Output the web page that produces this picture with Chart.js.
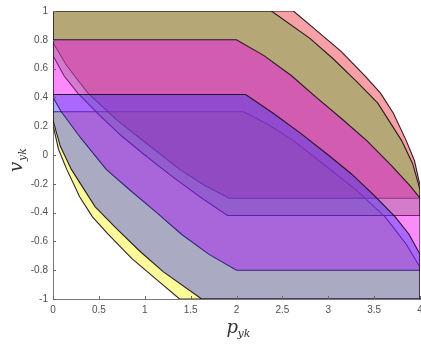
<!DOCTYPE html>
<html>
<head>
<meta charset="utf-8">
<script src="https://cdn.jsdelivr.net/npm/chart.js@4/dist/chart.umd.min.js"></script>
<style>
html,body{margin:0;padding:0;background:#fff;}
canvas{display:block;}
</style>
</head>
<body>
<canvas id="c" width="421" height="344"></canvas>
<script>
// Region vertices (p, v)
const redP = [0, 2.62, 2.88, 3.14, 3.4, 3.57, 3.71, 3.85, 3.94, 4, 4, 1.92, 1.65, 1.38, 1.0, 0.7, 0.38, 0.15, 0, 0];
const redV = [1, 1, 0.86, 0.72, 0.55, 0.43, 0.29, 0.1, -0.04, -0.21, -0.3, -0.3, -0.21, -0.1, 0.09, 0.24, 0.43, 0.62, 0.78, 1];

const greenP = [0, 2.38, 2.8, 3.05, 3.31, 3.54, 3.8, 3.92, 4, 4, 1.9, 1.6, 1.3, 1.0, 0.75, 0.5, 0.27, 0.12, 0, 0];
const greenV = [1, 1, 0.81, 0.67, 0.51, 0.36, 0.1, -0.06, -0.24, -0.42, -0.42, -0.29, -0.15, 0.0, 0.13, 0.28, 0.43, 0.55, 0.69, 1];

const magentaP = [0, 2.0, 2.3, 2.6, 2.87, 3.15, 3.42, 3.7, 3.9, 4, 4, 2.0, 1.7, 1.4, 1.13, 0.85, 0.58, 0.3, 0.09, 0, 0];
const magentaV = [0.8, 0.8, 0.69, 0.55, 0.4, 0.25, 0.1, -0.08, -0.22, -0.3, -0.8, -0.8, -0.69, -0.55, -0.4, -0.25, -0.1, 0.12, 0.3, 0.4, 0.8];

const blueP = [0, 2.1, 2.4, 2.7, 3.0, 3.25, 3.5, 3.73, 3.88, 4, 4, 1.62, 1.2, 0.95, 0.69, 0.46, 0.2, 0.08, 0, 0];
const blueV = [0.42, 0.42, 0.29, 0.15, 0.0, -0.13, -0.28, -0.43, -0.55, -0.69, -1, -1, -0.81, -0.67, -0.51, -0.36, -0.1, 0.06, 0.24, 0.42];

const yellowP = [0, 2.08, 2.35, 2.62, 3.0, 3.3, 3.62, 3.85, 4, 4, 1.38, 1.12, 0.86, 0.6, 0.43, 0.29, 0.15, 0.06, 0, 0];
const yellowV = [0.3, 0.3, 0.21, 0.1, -0.09, -0.24, -0.43, -0.62, -0.78, -1, -1, -0.86, -0.72, -0.55, -0.43, -0.29, -0.1, 0.04, 0.21, 0.3];

const xTicks = [0, 0.5, 1, 1.5, 2, 2.5, 3, 3.5, 4];
const yTicks = [-1, -0.8, -0.6, -0.4, -0.2, 0, 0.2, 0.4, 0.6, 0.8, 1];

function pts(P, V) { return P.map((p, i) => ({x: p, y: V[i]})); }
function region(label, P, V, fillColor) {
  return {
    label: label,
    data: pts(P, V),
    showLine: true,
    fill: 'shape',
    backgroundColor: fillColor,
    borderColor: 'rgba(25,10,25,0.9)',
    borderWidth: 1.1,
    pointRadius: 0,
    tension: 0
  };
}
// index 0 is drawn on top
const datasets = [
  region('blue', blueP, blueV, 'rgba(50,50,255,0.4)'),
  region('magenta', magentaP, magentaV, 'rgba(244,0,244,0.45)'),
  region('green', greenP, greenV, 'rgba(88,180,48,0.4)'),
  region('red', redP, redV, 'rgba(230,20,30,0.4)'),
  region('yellow', yellowP, yellowV, 'rgba(245,245,0,0.4)')
];

const extras = {
  id: 'extras',
  afterDraw(chart) {
    const ctx = chart.ctx;
    const xs = chart.scales.x, ys = chart.scales.y;
    const ca = chart.chartArea;
    ctx.save();
    // inward tick marks
    ctx.strokeStyle = '#666';
    ctx.lineWidth = 1;
    ctx.beginPath();
    xTicks.forEach(t => {
      const px = Math.round(xs.getPixelForValue(t)) + 0.5;
      ctx.moveTo(px, ca.bottom); ctx.lineTo(px, ca.bottom - 3);
    });
    yTicks.forEach(t => {
      const py = Math.round(ys.getPixelForValue(t)) + 0.5;
      ctx.moveTo(ca.left, py); ctx.lineTo(ca.left + 3, py);
    });
    ctx.stroke();
    // axis titles with subscripts
    ctx.fillStyle = '#333';
    ctx.textBaseline = 'alphabetic';
    const cx = (ca.left + ca.right) / 2;
    ctx.font = 'italic 18px "DejaVu Serif", "Liberation Serif", serif';
    ctx.fillText('p', cx - 10, 333);
    ctx.font = 'italic 11px "DejaVu Serif", "Liberation Serif", serif';
    ctx.fillText('yk', cx + 1, 337);
    const cy = (ca.top + ca.bottom) / 2;
    ctx.translate(22, cy + 17);
    ctx.rotate(-Math.PI / 2);
    ctx.font = 'italic 18px "DejaVu Serif", "Liberation Serif", serif';
    ctx.fillText('v', 0, 0);
    ctx.font = 'italic 11px "DejaVu Serif", "Liberation Serif", serif';
    ctx.fillText('yk', 11, 4);
    ctx.restore();
  }
};

function fmt(v) { return String(Math.round(v * 10) / 10); }

new Chart(document.getElementById('c'), {
  type: 'scatter',
  data: { datasets },
  options: {
    responsive: false,
    animation: false,
    layout: { padding: { top: 11, right: 1, left: 0, bottom: 0 } },
    plugins: { legend: { display: false }, tooltip: { enabled: false } },
    scales: {
      x: {
        type: 'linear', min: 0, max: 4,
        afterBuildTicks(s) { s.ticks = xTicks.map(v => ({value: v})); },
        ticks: { callback: fmt, color: '#505050', font: { family: '"Liberation Sans", Arial, sans-serif', size: 10 }, padding: 5, maxRotation: 0 },
        grid: { display: true, drawOnChartArea: false, drawTicks: false },
        border: { display: true, color: '#777', width: 1 },
        afterFit(s) { s.height = 45; s.paddingLeft = 0; s.paddingRight = 0; }
      },
      y: {
        type: 'linear', min: -1, max: 1,
        afterBuildTicks(s) { s.ticks = yTicks.map(v => ({value: v})); },
        ticks: { callback: fmt, color: '#505050', font: { family: '"Liberation Sans", Arial, sans-serif', size: 10 }, padding: 5 },
        grid: { display: true, drawOnChartArea: false, drawTicks: false },
        border: { display: true, color: '#777', width: 1 },
        afterFit(s) { s.width = 53; s.paddingTop = 0; s.paddingBottom = 0; }
      }
    }
  },
  plugins: [extras]
});
</script>
</body>
</html>
